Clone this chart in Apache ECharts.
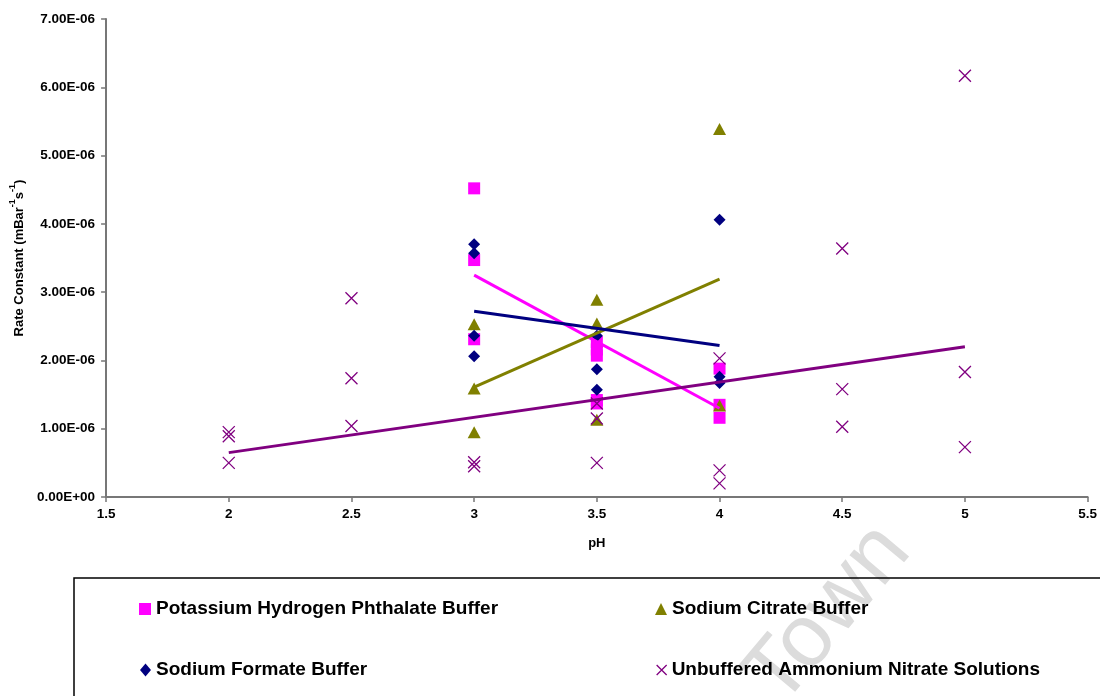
<!DOCTYPE html>
<html>
<head>
<meta charset="utf-8">
<script src="https://cdn.jsdelivr.net/npm/echarts@6/dist/echarts.min.js"></script>
<style>
  html, body { margin: 0; padding: 0; background: #ffffff; }
  #chart { width: 1100px; height: 696px; }
</style>
</head>
<body>
<div id="chart"></div>
<script>
// Rate constants (mBar^-1 s^-1) measured at each pH, per buffer system
const phthalatePH = [3, 3, 3, 3.5, 3.5, 3.5, 3.5, 3.5, 4, 4, 4];
const phthalateK  = [4.52e-6, 3.47e-6, 2.31e-6, 2.27e-6, 2.16e-6, 2.07e-6, 1.42e-6, 1.37e-6, 1.88e-6, 1.35e-6, 1.16e-6];

const citratePH = [3, 3, 3, 3.5, 3.5, 3.5, 4, 4];
const citrateK  = [2.53e-6, 1.59e-6, 0.95e-6, 2.89e-6, 2.54e-6, 1.13e-6, 5.39e-6, 1.34e-6];

const formatePH = [3, 3, 3, 3, 3.5, 3.5, 3.5, 4, 4, 4];
const formateK  = [3.70e-6, 3.57e-6, 2.36e-6, 2.06e-6, 2.36e-6, 1.87e-6, 1.57e-6, 4.06e-6, 1.76e-6, 1.67e-6];

const nitratePH = [2, 2, 2, 2.5, 2.5, 2.5, 3, 3, 3.5, 3.5, 3.5, 4, 4, 4, 4.5, 4.5, 4.5, 5, 5, 5];
const nitrateK  = [0.95e-6, 0.89e-6, 0.50e-6, 2.91e-6, 1.74e-6, 1.04e-6, 0.51e-6, 0.45e-6,
                   1.37e-6, 1.15e-6, 0.50e-6, 2.03e-6, 0.39e-6, 0.20e-6, 3.64e-6, 1.58e-6, 1.03e-6,
                   6.17e-6, 1.83e-6, 0.73e-6];

// Linear trend lines (end points) for each series
const phthalateTrendPH = [3, 4];
const phthalateTrendK  = [3.25e-6, 1.30e-6];
const citrateTrendPH = [3, 4];
const citrateTrendK  = [1.61e-6, 3.19e-6];
const formateTrendPH = [3, 4];
const formateTrendK  = [2.72e-6, 2.22e-6];
const nitrateTrendPH = [2, 5];
const nitrateTrendK  = [0.65e-6, 2.20e-6];

// Axis ranges and ticks
const pHMin = 1.5, pHMax = 5.5, pHStep = 0.5;
const kMin = 0, kMax = 7e-6, kStep = 1e-6;

const seriesNames = [
  'Potassium Hydrogen Phthalate Buffer',
  'Sodium Citrate Buffer',
  'Sodium Formate Buffer',
  'Unbuffered Ammonium Nitrate Solutions'
];

const zip = (xs, ys) => xs.map((x, i) => [x, ys[i]]);

// Scientific notation like 7.00E-06
function sci(v) {
  if (Math.abs(v) < 1e-15) return '0.00E+00';
  let e = Math.floor(Math.log10(Math.abs(v)));
  let m = v / Math.pow(10, e);
  if (Math.abs(m) >= 9.995) { m /= 10; e += 1; }
  return m.toFixed(2) + 'E' + (e < 0 ? '-' : '+') + String(Math.abs(e)).padStart(2, '0');
}

const FONT = '"Liberation Sans", Arial, sans-serif';
const crossPath = 'path://M0,0L10,10M10,0L0,10';
const MAGENTA = '#FF00FF', OLIVE = '#808000', NAVY = '#000080', PURPLE = '#800080';
const AXIS = '#777777';

const chart = echarts.init(document.getElementById('chart'), null, { renderer: 'canvas' });

const legendText = { fontFamily: FONT, fontWeight: 'bold', fontSize: 19, color: '#000', lineHeight: 24 };

function trend(xs, ys, color) {
  return {
    type: 'line', data: zip(xs, ys), showSymbol: false, symbol: 'none',
    lineStyle: { color: color, width: 3, opacity: 1 }, z: 5, silent: true, legendHoverLink: false
  };
}

chart.setOption({
  animation: false,
  backgroundColor: '#ffffff',
  grid: { left: 105, right: 10, top: 19, bottom: 199, containLabel: false },
  xAxis: {
    type: 'value', min: pHMin, max: pHMax, interval: pHStep,
    name: 'pH', nameLocation: 'middle', nameGap: 40,
    nameTextStyle: { fontFamily: FONT, fontWeight: 'bold', fontSize: 13, color: '#000' },
    axisLine: { show: true, onZero: false, lineStyle: { color: AXIS, width: 2 } },
    axisTick: { show: true, inside: false, length: 5, lineStyle: { color: AXIS, width: 1.5 } },
    axisLabel: { margin: 10, fontFamily: FONT, fontWeight: 'bold', fontSize: 13.5, color: '#000',
                 formatter: v => String(Math.round(v * 10) / 10) },
    splitLine: { show: false }
  },
  yAxis: {
    type: 'value', min: kMin, max: kMax, interval: kStep,
    name: '{b|Rate Constant (mBar}{s|-1}{b|s}{s|-1}{b|)}',
    nameLocation: 'middle', nameGap: 77, nameRotate: 90,
    nameTextStyle: {
      rich: {
        b: { fontFamily: FONT, fontWeight: 'bold', fontSize: 13, color: '#000', lineHeight: 18, verticalAlign: 'bottom' },
        s: { fontFamily: FONT, fontWeight: 'bold', fontSize: 9, color: '#000', lineHeight: 18, verticalAlign: 'top' }
      }
    },
    axisLine: { show: true, onZero: false, lineStyle: { color: AXIS, width: 2 } },
    axisTick: { show: true, inside: false, length: 5, lineStyle: { color: AXIS, width: 1.5 } },
    axisLabel: { margin: 11, fontFamily: FONT, fontWeight: 'bold', fontSize: 13.5, color: '#000', formatter: sci },
    splitLine: { show: false }
  },
  legend: [
    { data: [{ name: seriesNames[0], icon: 'rect' }], left: 139, top: 597, padding: 0,
      itemWidth: 12, itemHeight: 12, textStyle: legendText, selectedMode: false },
    { data: [{ name: seriesNames[1], icon: 'triangle' }], left: 655, top: 597, padding: 0,
      itemWidth: 12, itemHeight: 12, textStyle: legendText, selectedMode: false },
    { data: [{ name: seriesNames[2], icon: 'diamond' }], left: 140, top: 658, padding: 0,
      itemWidth: 11, itemHeight: 13, textStyle: legendText, selectedMode: false },
    { data: [{ name: seriesNames[3], icon: crossPath,
               itemStyle: { color: 'transparent', borderColor: PURPLE, borderWidth: 1.3, opacity: 1 } }],
      left: 656, top: 658, padding: 0,
      itemWidth: 10, itemHeight: 13, textStyle: legendText, selectedMode: false }
  ],
  graphic: [
    { type: 'rect', z: 0, silent: true,
      shape: { x: 74, y: 578, width: 1100, height: 200 },
      style: { fill: 'none', stroke: '#000', lineWidth: 1.5 } },
    { type: 'text', z: -10, silent: true, x: 828, y: 615, rotation: 50 * Math.PI / 180,
      style: { text: 'Town', font: '88px "Liberation Sans", Arial, sans-serif', fill: '#dcdcdc',
               align: 'center', verticalAlign: 'middle' } }
  ],
  series: [
    { name: seriesNames[0], type: 'scatter', data: zip(phthalatePH, phthalateK),
      symbol: 'rect', symbolSize: 12, itemStyle: { color: MAGENTA, opacity: 1 }, z: 2 },
    { name: seriesNames[1], type: 'scatter', data: zip(citratePH, citrateK),
      symbol: 'triangle', symbolSize: [13, 12], itemStyle: { color: OLIVE, opacity: 1 }, z: 3 },
    { name: seriesNames[2], type: 'scatter', data: zip(formatePH, formateK),
      symbol: 'diamond', symbolSize: 12, itemStyle: { color: NAVY, opacity: 1 }, z: 3 },
    { name: seriesNames[3], type: 'scatter', data: zip(nitratePH, nitrateK),
      symbol: crossPath, symbolSize: 12,
      itemStyle: { color: 'transparent', borderColor: PURPLE, borderWidth: 1.3, opacity: 1 }, z: 4 },
    trend(phthalateTrendPH, phthalateTrendK, MAGENTA),
    trend(citrateTrendPH, citrateTrendK, OLIVE),
    trend(formateTrendPH, formateTrendK, NAVY),
    trend(nitrateTrendPH, nitrateTrendK, PURPLE)
  ]
});
</script>
</body>
</html>
